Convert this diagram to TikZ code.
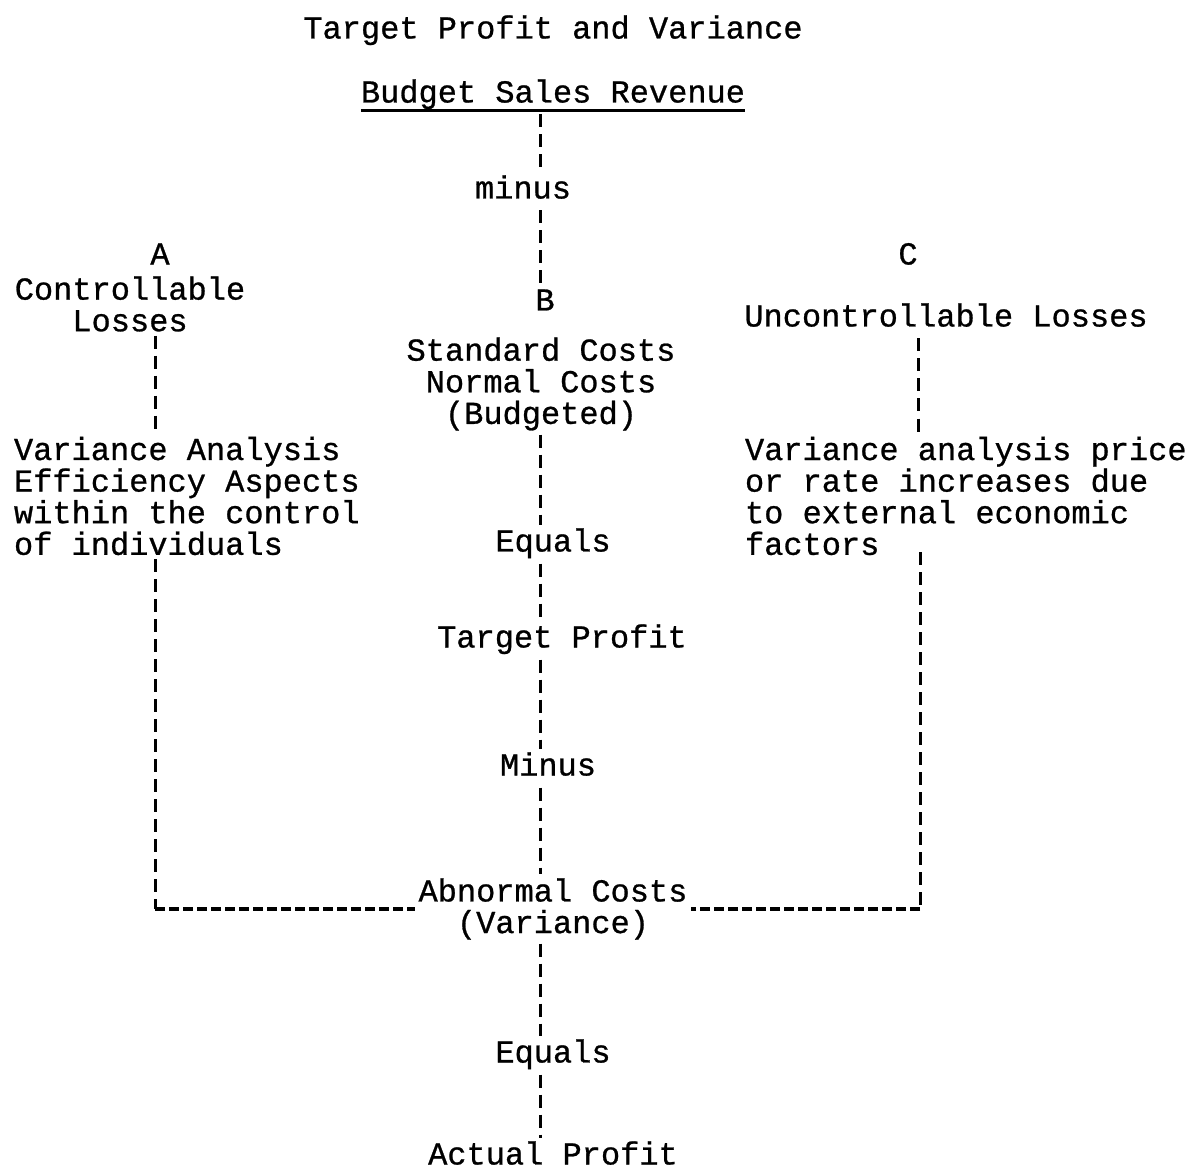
\documentclass[tikz,border=0pt]{standalone}
\usepackage{fontspec}
\setmainfont{Liberation Mono}[FakeBold=0.8]
\begin{document}
\begin{tikzpicture}
[x=0.5pt,y=-0.5pt,
  textdecorate/.style={inner sep=0pt,outer sep=0pt,yshift=-1.5pt,font=\fontsize{16}{15.8}\selectfont,text height=11.5pt,text depth=4pt},
  blockdecorate/.style={inner sep=0pt,outer sep=0pt,yshift=-1.5pt,font=\fontsize{16}{15.8}\selectfont},
  linedecorate/.style={-,line width=1.5pt,dash pattern=on 6.5pt off 3.5pt,shorten <=2pt,shorten >=2pt},
  flatdecorate/.style={-,line width=1.8pt,dash pattern=on 5pt off 2pt,shorten >=2pt}]
\useasboundingbox (0,0) rectangle (1191,1172);
%% single line nodes
\foreach \nodename/\x/\y/\txt in {title/553/28/Target Profit and Variance,
  revenue/553/92/Budget Sales Revenue, minusA/523/188/minus, labB/545/300/B,
  labA/160/254/A, labC/908/254/C, unctrl/946/316/Uncontrollable Losses,
  equalsA/553/541/Equals, target/562/637/Target Profit, minusB/548/765/Minus,
  equalsB/553/1052/Equals, actual/553/1154/Actual Profit} {
  \node (\nodename) at (\x,\y) [textdecorate] {\txt};
}
%% blocks of several lines
\node (ctrl) at (130,301) [blockdecorate,align=center] {Controllable\\Losses};
\node (stdcost) at (541,381) [blockdecorate,align=center] {Standard Costs\\Normal Costs\\(Budgeted)};
\node (ctrlvar) at (14,493) [blockdecorate,align=left,anchor=west] {Variance Analysis\\Efficiency Aspects\\within the control\\of individuals};
\node (unctrlvar) at (745,493) [blockdecorate,align=left,anchor=west] {Variance analysis price\\or rate increases due\\to external economic\\factors};
\node (abnormal) at (553,906) [blockdecorate,align=center] {Abnormal Costs\\(Variance)};
%% underline
\draw[line width=1.8pt] (revenue.south west) -- (revenue.south east);
%% spine and side lines
\coordinate (spine) at (540,0);
\coordinate (leftx) at (155,0);
\coordinate (rightx) at (918,0);
\coordinate (rtop) at (920,548);
\path
\foreach \startnode/\endnode in {revenue/minusA, minusA/labB, stdcost/equalsA,
  equalsA/target, target/minusB, minusB/abnormal, abnormal/equalsB, equalsB/actual} {
  (\startnode.south -| spine) edge[linedecorate] (\endnode.north -| spine)
};
\draw[linedecorate] (ctrl.south -| leftx) -- (ctrlvar.north -| leftx);
\draw[linedecorate] (unctrl.south -| rightx) -- (unctrlvar.north -| rightx);
\draw[linedecorate,shorten >=0pt] (ctrlvar.south -| leftx) -- (leftx |- abnormal.west);
\draw[flatdecorate] (leftx |- abnormal.west) -- (abnormal.west);
\draw[linedecorate,shorten >=0pt] (rtop) -- (rtop |- abnormal.east);
\draw[flatdecorate] (rtop |- abnormal.east) -- (abnormal.east);
\end{tikzpicture}
\end{document}
